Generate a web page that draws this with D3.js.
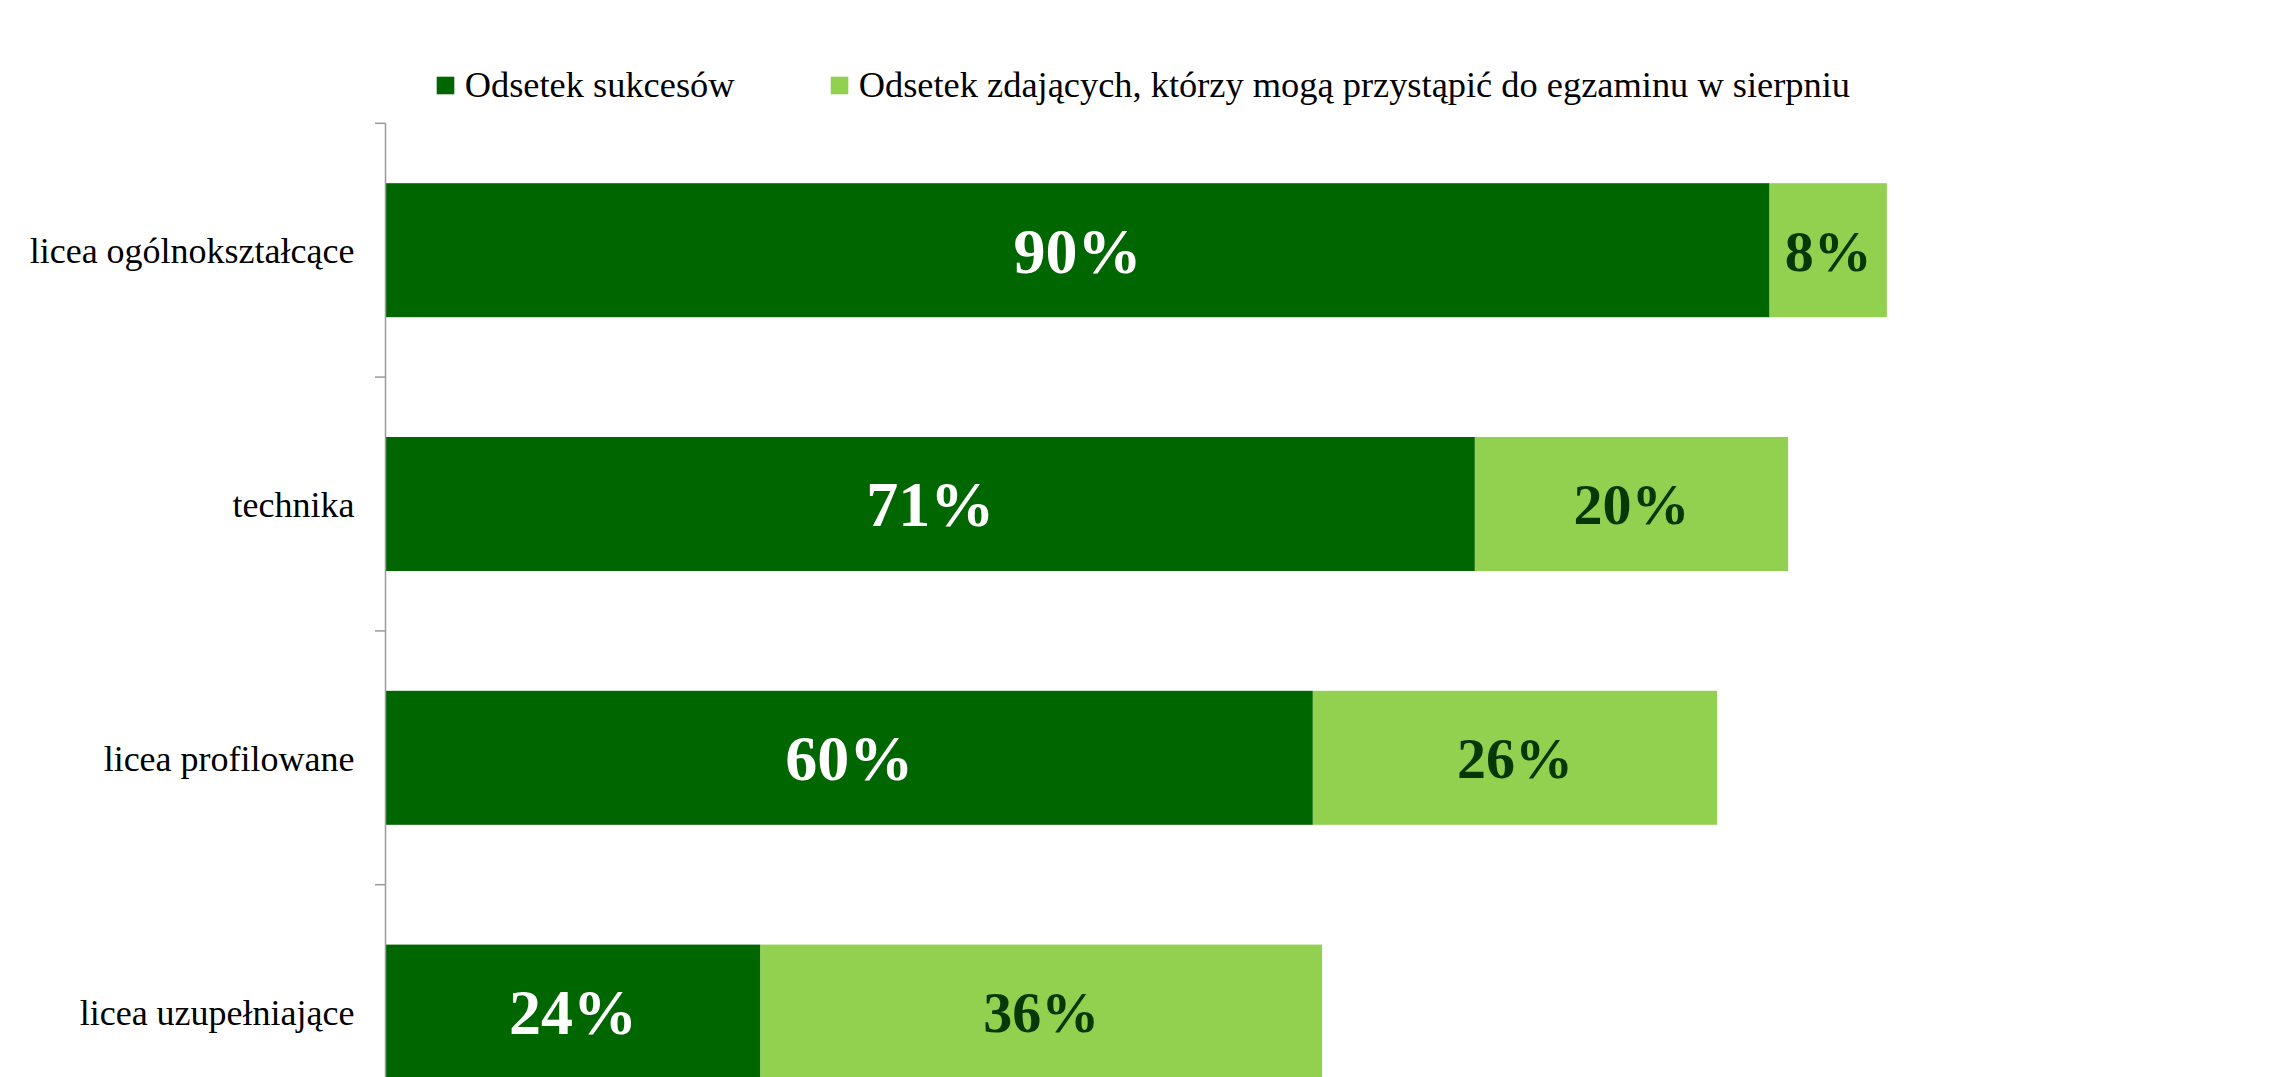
<!DOCTYPE html>
<html>
<head>
<meta charset="utf-8">
<script src="https://cdn.jsdelivr.net/npm/d3@7"></script>
<style>
  html, body { margin: 0; padding: 0; background: #fff; }
  svg { display: block; font-family: "Liberation Serif", "Times New Roman", serif; }
</style>
</head>
<body>
<svg id="chart" width="2280" height="1077"></svg>
<script>
// dane
const categories = ["licea ogólnokształcące", "technika", "licea profilowane", "licea uzupełniające"];
const seriesNames = ["Odsetek sukcesów", "Odsetek zdających, którzy mogą przystąpić do egzaminu w sierpniu"];
const success = [0.897, 0.706, 0.601, 0.243];
const august = [0.076, 0.203, 0.262, 0.364];

const colors = ["#006600", "#92d050"];
const labelColors = ["#ffffff", "#063806"];
const labelSizes = [64, 58];

const svg = d3.select("#chart");

// obszar wykresu (dolna część ucięta jak w oryginale)
const plotLeft = 385.5, plotTop = 123.3;
const x = d3.scaleLinear().domain([0, 1]).range([plotLeft, plotLeft + 1543]);
const y = d3.scaleBand()
  .domain(categories)
  .range([plotTop, plotTop + 4 * 253.8])
  .paddingInner(0.472)
  .paddingOuter(0.236);

// stos serii
const rows = categories.map((c, i) => ({ cat: c, s0: success[i], s1: august[i] }));
const stack = d3.stack().keys(["s0", "s1"])(rows);

const fmt = v => Math.round(v * 100) + "%";

const layer = svg.append("g")
  .selectAll("g")
  .data(stack)
  .join("g")
  .attr("fill", (d, i) => colors[i]);

layer.selectAll("rect")
  .data(d => d)
  .join("rect")
  .attr("x", d => x(d[0]))
  .attr("y", d => y(d.data.cat))
  .attr("width", d => x(d[1]) - x(d[0]))
  .attr("height", y.bandwidth());

// etykiety danych
stack.forEach((s, i) => {
  svg.append("g")
    .selectAll("text")
    .data(s)
    .join("text")
    .attr("x", d => (x(d[0]) + x(d[1])) / 2)
    .attr("y", d => y(d.data.cat) + y.bandwidth() / 2 + labelSizes[i] * 0.35)
    .attr("text-anchor", "middle")
    .attr("font-weight", "bold")
    .attr("font-size", labelSizes[i])
    .attr("fill", labelColors[i])
    .text(d => fmt(d[1] - d[0]));
});

// oś kategorii
const step = y.step();
const bounds = categories.map(c => y(c) - step * y.paddingInner() / 2);
bounds.push(bounds[bounds.length - 1] + step);

const axis = svg.append("g").attr("stroke", "#9a9a9a").attr("stroke-width", 1.5);
axis.append("line")
  .attr("x1", plotLeft).attr("x2", plotLeft)
  .attr("y1", bounds[0]).attr("y2", bounds[bounds.length - 1]);
axis.selectAll("line.tick")
  .data(bounds)
  .join("line")
  .attr("class", "tick")
  .attr("x1", plotLeft - 10.5).attr("x2", plotLeft)
  .attr("y1", d => d).attr("y2", d => d);

svg.append("g")
  .selectAll("text")
  .data(categories)
  .join("text")
  .attr("x", plotLeft - 31)
  .attr("y", d => y(d) + y.bandwidth() / 2 + 13)
  .attr("text-anchor", "end")
  .attr("font-size", 36)
  .attr("fill", "#000")
  .text(d => d);

// legenda
const legendX = [436.7, 830.7];
const legend = svg.append("g")
  .selectAll("g")
  .data(seriesNames)
  .join("g")
  .attr("transform", (d, i) => `translate(${legendX[i]},76.7)`);

legend.append("rect")
  .attr("width", 17.6)
  .attr("height", 17.6)
  .attr("fill", (d, i) => colors[i]);

legend.append("text")
  .attr("x", 28)
  .attr("y", 20.5)
  .attr("font-size", 36.4)
  .attr("fill", "#000")
  .text(d => d);
</script>
</body>
</html>
